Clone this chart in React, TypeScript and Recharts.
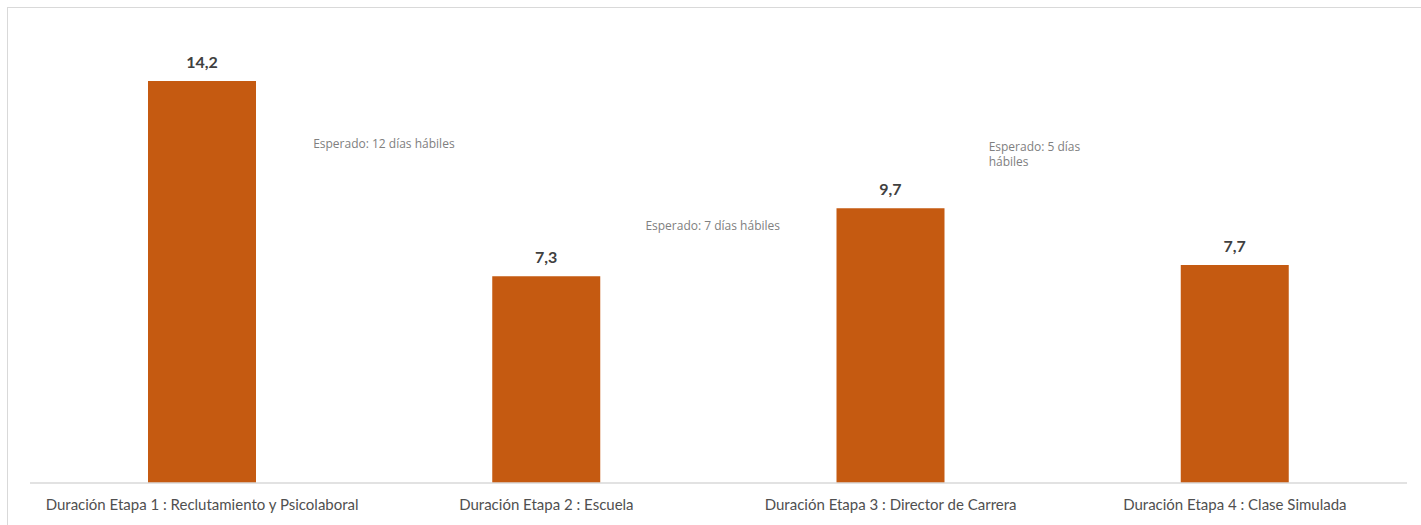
import React from "react";
import { BarChart, Bar, XAxis, YAxis, LabelList, ReferenceDot } from "recharts";

const categories = [
  "Duración Etapa 1 : Reclutamiento y Psicolaboral",
  "Duración Etapa 2 : Escuela",
  "Duración Etapa 3 : Director de Carrera",
  "Duración Etapa 4 : Clase Simulada",
];
const durations = [14.2, 7.3, 9.7, 7.7];

const noteTexts = [["Esperado: 12 días hábiles"], ["Esperado: 7 días hábiles"], ["Esperado: 5 días", "hábiles"]];
const noteCategoryIndex = [0, 1, 2];
const noteLevels = [12, 9.1, 11.9];

const data = categories.map((c, i) => ({ name: c, value: durations[i] }));

const FONT = "Lato, 'Open Sans', sans-serif";
const NOTE_FONT = "'Open Sans', Lato, sans-serif";
const NOTE_DX = [111, 99, 98];

const fmt = (v: number) => v.toFixed(1).replace(".", ",");

function NoteLabel(props: any) {
  const { viewBox, lines, dx } = props;
  const x = viewBox.x + (viewBox.width || 0) / 2 + dx;
  const y = viewBox.y + (viewBox.height || 0) / 2;
  return (
    <text x={x} y={y} fill="#808080" fontSize={12} fontFamily={NOTE_FONT} dominantBaseline="central">
      {lines.map((l: string, i: number) => (
        <tspan key={i} x={x} dy={i === 0 ? 0 : 15}>
          {l}
        </tspan>
      ))}
    </text>
  );
}

export default function App() {
  return (
    <div style={{ position: "absolute", left: 0, top: 0, width: 1421, height: 525, background: "#fff", overflow: "hidden" }}>
      <div
        style={{
          position: "absolute",
          left: 7,
          top: 7,
          width: 1430,
          height: 540,
          border: "1.5px solid #d9d9d9",
          boxSizing: "border-box",
        }}
      />
      <div style={{ position: "absolute", left: 0, top: 0 }}>
        <BarChart width={1421} height={525} data={data} margin={{ top: 30, right: 14, bottom: 0, left: 30 }}>
          <XAxis
            dataKey="name"
            height={42}
            axisLine={{ stroke: "#d9d9d9", strokeWidth: 1.5 }}
            tickLine={false}
            tickMargin={10}
            interval={0}
            tick={{ fill: "#505050", fontSize: 15, fontFamily: FONT }}
          />
          <YAxis hide domain={[0, 16]} />
          <Bar dataKey="value" fill="#c55a11" barSize={108} isAnimationActive={false}>
            <LabelList
              dataKey="value"
              position="top"
              offset={13}
              formatter={(v: any) => fmt(Number(v))}
              style={{ fill: "#404040", fontSize: 16, fontWeight: 700, fontFamily: FONT }}
            />
          </Bar>
          {noteTexts.map((lines, i) => (
            <ReferenceDot
              key={i}
              x={categories[noteCategoryIndex[i]]}
              y={noteLevels[i]}
              r={0}
              fill="none"
              stroke="none"
              label={<NoteLabel lines={lines} dx={NOTE_DX[i]} />}
            />
          ))}
        </BarChart>
      </div>
    </div>
  );
}
